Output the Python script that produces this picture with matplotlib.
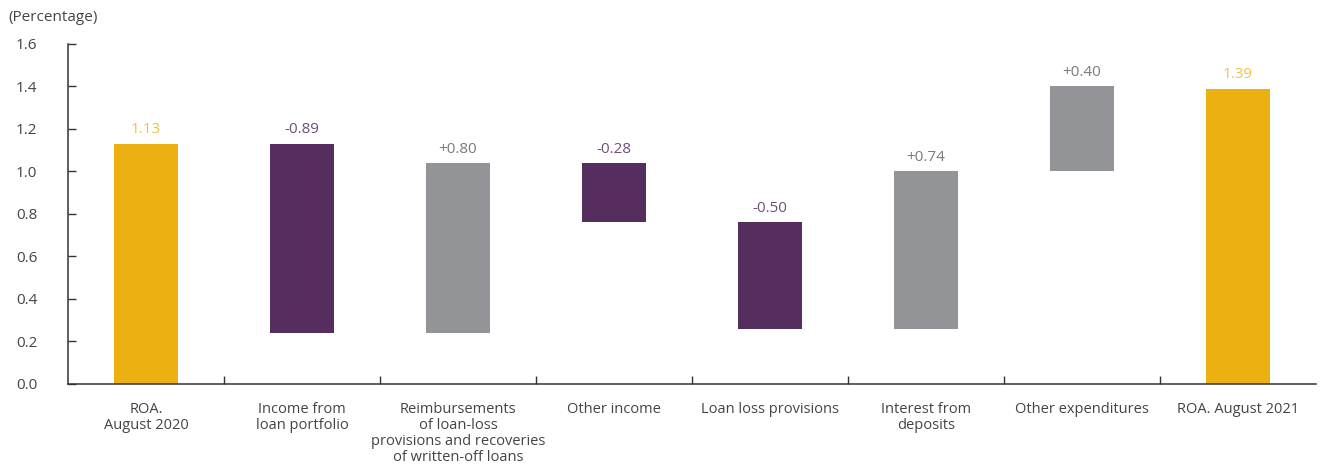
import matplotlib
matplotlib.use("Agg")
import matplotlib.pyplot as plt
import numpy as np

# Data
categories = [
    "ROA.\nAugust 2020",
    "Income from\nloan portfolio",
    "Reimbursements\nof loan-loss\nprovisions and recoveries\nof written-off loans",
    "Other income",
    "Loan loss provisions",
    "Interest from\ndeposits",
    "Other expenditures",
    "ROA. August 2021",
]
roa_start = 1.13
roa_end = 1.39
changes = [-0.89, 0.80, -0.28, -0.50, 0.74, 0.40]

GOLD = "#EBB111"
PURPLE = "#552D5E"
GRAY = "#939497"

# waterfall positions
levels = np.concatenate([[roa_start], roa_start + np.cumsum(changes)])
bottoms = [0.0]
heights = [roa_start]
colors = [GOLD]
labels = [f"{roa_start:.2f}"]
label_colors = ["#F2C23E"]
for i, d in enumerate(changes):
    lo = min(levels[i], levels[i + 1])
    bottoms.append(lo)
    heights.append(abs(d))
    if d < 0:
        colors.append(PURPLE)
        labels.append(f"-{abs(d):.2f}")
        label_colors.append("#6F4E7A")
    else:
        colors.append(GRAY)
        labels.append(f"+{d:.2f}")
        label_colors.append("#7A7A7D")
bottoms.append(0.0)
heights.append(roa_end)
colors.append(GOLD)
labels.append(f"{roa_end:.2f}")
label_colors.append("#F2C23E")

plt.rcParams["font.family"] = ["Open Sans", "DejaVu Sans"]

fig = plt.figure(figsize=(13.22, 4.67), dpi=100)
ax = fig.add_axes([0.0514, 0.178, 0.9441, 0.728])

x = np.arange(len(categories))
ax.bar(x, heights, bottom=bottoms, width=0.41, color=colors)

for xi, b, h, t, c in zip(x, bottoms, heights, labels, label_colors):
    ax.text(xi, b + h + 0.03, t, ha="center", va="bottom", fontsize=11, color=c)

ax.set_xlim(-0.5, len(categories) - 0.5)
ax.set_ylim(0, 1.6)
ax.set_yticks(np.arange(0, 1.61, 0.2))
ax.set_yticklabels([f"{v:.1f}" for v in np.arange(0, 1.61, 0.2)])

ax.set_xticks(x)
ax.set_xticklabels(categories, fontsize=10.5, color="#444444", linespacing=1.1)
ax.set_xticks(np.arange(0.5, len(categories) - 1, 1.0), minor=True)
ax.tick_params(axis="x", which="major", length=0, pad=13)
ax.tick_params(axis="x", which="minor", direction="in", length=6, color="#333333", width=1)
ax.tick_params(axis="y", direction="in", length=6, color="#333333", width=1,
               labelsize=11, labelcolor="#444444", pad=22)

for s in ["top", "right"]:
    ax.spines[s].set_visible(False)
for s in ["left", "bottom"]:
    ax.spines[s].set_color("#333333")
    ax.spines[s].set_linewidth(1.1)

fig.text(0.006, 0.962, "(Percentage)", fontsize=11, color="#444444", va="center", ha="left")

fig.savefig("out.png", dpi=100)
